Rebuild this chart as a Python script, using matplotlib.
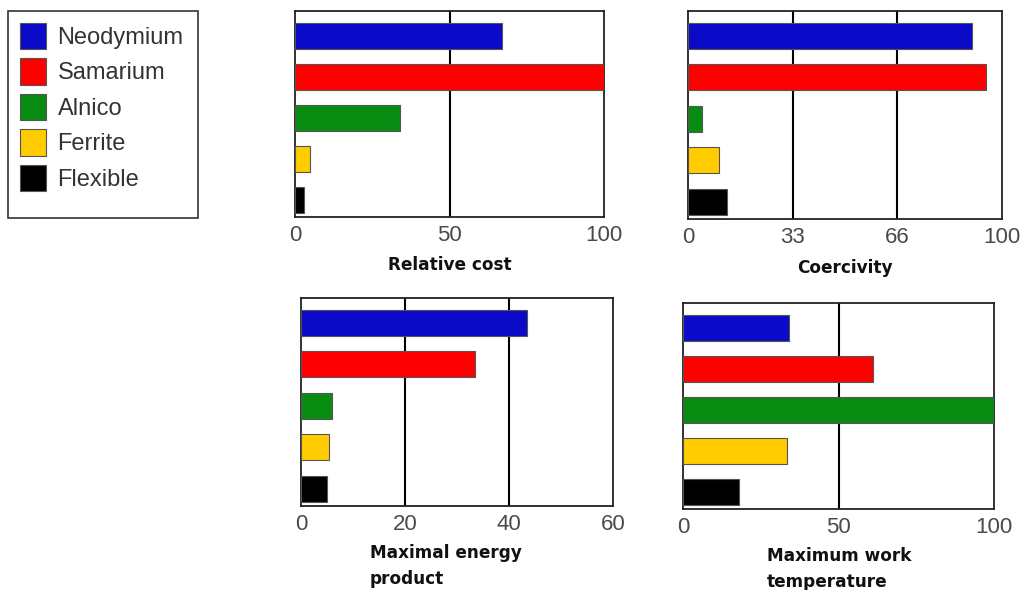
import matplotlib
matplotlib.use("Agg")
import matplotlib.pyplot as plt
from matplotlib.patches import Patch, Rectangle

materials = ["Neodymium", "Samarium", "Alnico", "Ferrite", "Flexible"]
colors = ["#0a0ac8", "#ff0000", "#088c12", "#ffcc00", "#000000"]

relative_cost = [67, 100, 34, 5, 3]
coercivity = [90.5, 95, 4.5, 10, 12.5]
energy_product = [43.5, 33.5, 6, 5.3, 5]
work_temperature = [34, 61, 100, 33.5, 18]

panels = [
    dict(vals=relative_cost, xmax=100, ticks=[0, 50, 100], labels=["0", "50", "100"],
         title="Relative cost", box=(295, 604, 11, 217)),
    dict(vals=coercivity, xmax=100, ticks=[0, 100/3, 200/3, 100], labels=["0", "33", "66", "100"],
         title="Coercivity", box=(688, 1002, 11, 219)),
    dict(vals=energy_product, xmax=60, ticks=[0, 20, 40, 60], labels=["0", "20", "40", "60"],
         title="Maximal energy\nproduct", box=(301, 613, 298, 506)),
    dict(vals=work_temperature, xmax=100, ticks=[0, 50, 100], labels=["0", "50", "100"],
         title="Maximum work\ntemperature", box=(683, 994, 303, 509)),
]

W, H = 1024, 590
fig = plt.figure(figsize=(W / 100, H / 100), dpi=100)

tick_font = dict(family=["Liberation Sans", "DejaVu Sans"], size=16, color="#4a4a4a")

for p in panels:
    l, r, t, b = p["box"]
    ax = fig.add_axes([l / W, 1 - b / H, (r - l) / W, (b - t) / H])
    ypos = list(range(len(materials)))
    ax.barh(ypos, p["vals"], height=0.63, color=colors, edgecolor="#555555",
            linewidth=0.8, zorder=3)
    ax.set_xlim(0, p["xmax"])
    ax.set_ylim(4.42, -0.6)
    ax.set_xticks(p["ticks"])
    ax.set_xticklabels(p["labels"], **tick_font)
    ax.set_yticks([])
    ax.tick_params(axis="x", length=0, pad=6)
    for xt in p["ticks"][1:-1]:
        ax.axvline(xt, color="black", linewidth=1.5, zorder=1)
    for s in ax.spines.values():
        s.set_color("#222222")
        s.set_linewidth(1.3)
    if "\n" in p["title"]:
        ax.text(0.22 if p["xmax"] == 60 else 0.27, -0.185, p["title"], transform=ax.transAxes,
                ha="left", va="top", fontsize=12.2, fontweight="bold",
                family="DejaVu Sans", color="#111111", linespacing=1.55)
    else:
        ax.text(0.5, -0.19, p["title"], transform=ax.transAxes, ha="center", va="top",
                fontsize=12.2, fontweight="bold", family="DejaVu Sans", color="#111111")

# Legend frame (drawn separately so the bottom padding matches the reference)
fig.patches.append(Rectangle((8 / W, 1 - 218 / H), 190 / W, 207 / H, transform=fig.transFigure,
                             facecolor="white", edgecolor="#333333", linewidth=1.2, zorder=0))

handles = [Patch(facecolor=c, edgecolor="#555555", linewidth=0.8) for c in colors]
leg = fig.legend(handles, materials, loc="upper left", bbox_to_anchor=(8 / W, 1 - 11 / H),
                 frameon=False,
                 prop=dict(family=["Liberation Sans", "DejaVu Sans"], size=17),
                 handlelength=1.1, handleheight=1.35, handletextpad=0.5,
                 labelspacing=0.38, borderpad=0.5, borderaxespad=0)
for txt in leg.get_texts():
    txt.set_color("#333333")

fig.savefig("out.png", dpi=100, facecolor="white")
